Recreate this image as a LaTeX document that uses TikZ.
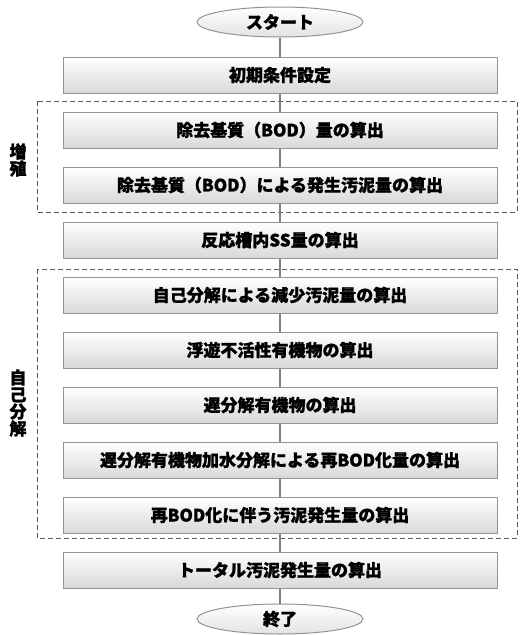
\documentclass[tikz,border=0pt]{standalone}
\usepackage{fontspec}
\setmainfont{Noto Sans CJK JP}[BoldFeatures={FakeBold=1.2}]
\usetikzlibrary{shapes.geometric}

\tikzset{
	stepbox/.style={draw=gray!85, line width=1pt, top color=white, bottom color=gray!30,
		minimum width=434pt, minimum height=36pt, inner sep=0pt,
		font=\fontsize{17}{18}\selectfont\bfseries},
	terminal/.style={ellipse, draw=gray!85, line width=1pt, top color=white, bottom color=gray!22,
		minimum width=166pt, minimum height=30pt, inner sep=0pt,
		font=\fontsize{17}{18}\selectfont\bfseries},
	groupbox/.style={draw=gray!70!black, line width=1pt, dash pattern=on 5pt off 3pt},
	grouplabel/.style={align=center, font=\fontsize{17}{17}\selectfont\bfseries},
	link/.style={draw=gray, line width=1.6pt},
}

\begin{document}
\begin{tikzpicture}[x=1pt, y=-1pt]
	\useasboundingbox (0,0) rectangle (520,635);

	% Dashed groups
	\draw[groupbox] (37,101) rectangle (517,212);
	\draw[groupbox] (37,269) rectangle (517,538);
	\node[grouplabel] (growth) at (18,160) {増\\殖};
	\node[grouplabel] (decay) at (18,403) {自\\己\\分\\解};

	% Steps of the calculation
	\node[terminal] (start) at (280,22) {スタート};
	\node[stepbox] (init) at (280,75) {初期条件設定};
	\node[stepbox] (bod) at (280,130) {除去基質（BOD）量の算出};
	\node[stepbox] (sludge) at (280,185) {除去基質（BOD）による発生汚泥量の算出};
	\node[stepbox] (ss) at (280,240) {反応槽内SS量の算出};
	\node[stepbox] (self) at (280,295) {自己分解による減少汚泥量の算出};
	\node[stepbox] (inert) at (280,350) {浮遊不活性有機物の算出};
	\node[stepbox] (slow) at (280,405) {遅分解有機物の算出};
	\node[stepbox] (hydro) at (280,460) {遅分解有機物加水分解による再BOD化量の算出};
	\node[stepbox] (rebod) at (280,515) {再BOD化に伴う汚泥発生量の算出};
	\node[stepbox] (total) at (280,570) {トータル汚泥発生量の算出};
	\node[terminal] (stop) at (280,619) {終了};

	% Connectors
	\draw[link] (start) -- (init);
	\draw[link] (init) -- (bod);
	\draw[link] (bod) -- (sludge);
	\draw[link] (sludge) -- (ss);
	\draw[link] (ss) -- (self);
	\draw[link] (self) -- (inert);
	\draw[link] (inert) -- (slow);
	\draw[link] (slow) -- (hydro);
	\draw[link] (hydro) -- (rebod);
	\draw[link] (rebod) -- (total);
	\draw[link] (total) -- (stop);
\end{tikzpicture}
\end{document}
